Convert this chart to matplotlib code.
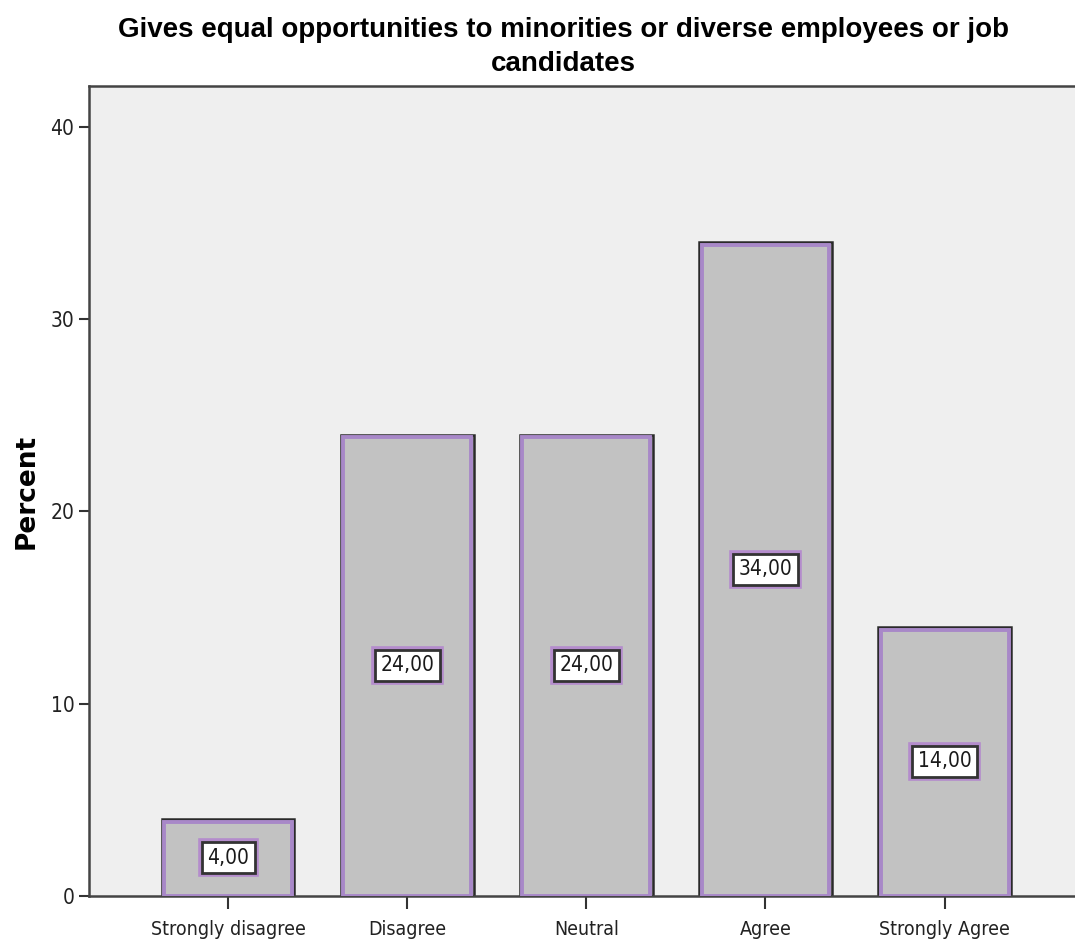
import matplotlib
matplotlib.use("Agg")
import matplotlib.pyplot as plt

categories = ["Strongly disagree", "Disagree", "Neutral", "Agree", "Strongly Agree"]
percent = [4.00, 24.00, 24.00, 34.00, 14.00]
yticks = [0, 10, 20, 30, 40]

plt.rcParams["font.family"] = ["Liberation Sans", "DejaVu Sans"]
cond = dict(family="DejaVu Sans", fontstretch="condensed")

fig = plt.figure(figsize=(10.75, 9.44), dpi=100)
ax = fig.add_axes([89 / 1075, 48 / 944, 1 - 89 / 1075 + 0.002, (896 - 86) / 944])
ax.set_facecolor("#efefef")

x = list(range(len(categories)))
width = 0.74

# gray bars with a dark outline and a purple inner border
ax.bar(x, percent, width=width, color="#c2c2c2", edgecolor="#2a2a2a", linewidth=1.8, zorder=2)
inset = 0.013
ax.bar(x, [p - 0.14 for p in percent], width=width - 2 * inset, bottom=0.0,
       color="none", edgecolor="#a888c8", linewidth=2.8, zorder=3)

for xi, p in zip(x, percent):
    label = f"{p:.2f}".replace(".", ",")
    # purple halo behind the white value box
    ax.text(xi, p / 2, label, ha="center", va="center", fontsize=15, color="none", zorder=4,
            bbox=dict(boxstyle="square,pad=0.26", facecolor="none", edgecolor="#b48ccc", linewidth=5.5),
            **cond)
    ax.text(xi, p / 2, label, ha="center", va="center", fontsize=15, color="#1a1a1a", zorder=5,
            bbox=dict(boxstyle="square,pad=0.26", facecolor="white", edgecolor="#333333", linewidth=2),
            **cond)

ax.set_xlim(-0.777, 4.74)
ax.set_ylim(0, 42.13)
ax.set_yticks(yticks)
ax.set_xticks(x)
ax.set_xticklabels(categories, fontsize=14, **cond)
for t in ax.get_yticklabels():
    t.set_fontsize(15)
    t.set_family("DejaVu Sans")
    t.set_fontstretch("condensed")
ax.tick_params(axis="y", length=7, width=1.5, color="#333333", labelcolor="#222222")
ax.tick_params(axis="x", length=9, width=1.5, color="#333333", labelcolor="#222222", pad=8)

for side in ["left", "bottom", "top"]:
    ax.spines[side].set_linewidth(1.8)
    ax.spines[side].set_color("#444444")
ax.spines["right"].set_visible(False)

ax.set_ylabel("Percent", fontsize=19, fontweight="bold", family="DejaVu Sans", labelpad=8)
fig.text(0.524, 0.982, "Gives equal opportunities to minorities or diverse employees or job\ncandidates",
         ha="center", va="top", fontsize=20, fontweight="bold", linespacing=1.4)

fig.savefig("out.png", dpi=100)
